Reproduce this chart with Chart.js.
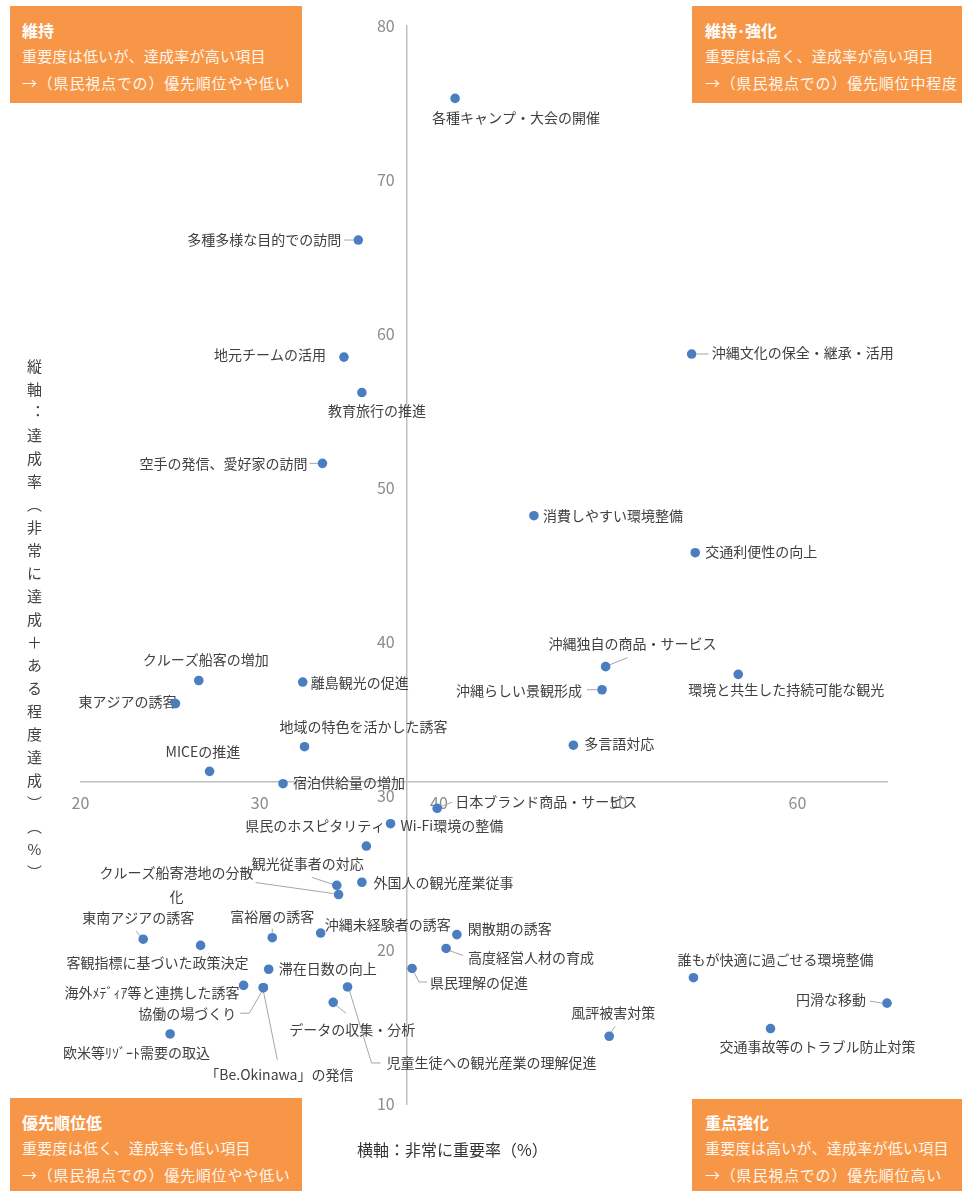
<!DOCTYPE html>
<html lang="ja">
<head>
<meta charset="utf-8">
<script src="https://cdn.jsdelivr.net/npm/chart.js@4.4.1/dist/chart.umd.min.js"></script>
<style>
html,body{margin:0;padding:0;background:#fff;}
body{width:962px;height:1191px;position:relative;overflow:hidden;font-family:"Noto Sans CJK JP",sans-serif;text-spacing-trim:space-all;}
#c{position:absolute;left:0;top:0;}
.box{position:absolute;background:#F79646;color:#fff;box-sizing:border-box;padding:11px 0 0 12px;overflow:hidden;white-space:nowrap;}
.box .t{font-weight:bold;font-size:16px;line-height:26px;}
.box .s{font-size:15px;line-height:26.5px;color:#FFF6EE;letter-spacing:0.25px;}
.box .s3{letter-spacing:0.8px;}
#ytitle{position:absolute;left:26px;top:359px;writing-mode:vertical-rl;text-orientation:upright;font-size:15px;line-height:16px;letter-spacing:8px;color:#404040;}
#ytitle .nv{font-feature-settings:"vert" 0, "vrt2" 0;}
#xtitle{position:absolute;left:357px;top:1139px;font-size:16px;line-height:20px;color:#333;}
</style>
</head>
<body>
<canvas id="c" width="962" height="1191"></canvas>
<div class="box" style="left:10px;top:6px;width:292px;height:97px;"><div class="t">維持</div><div class="s">重要度は低いが、達成率が高い項目</div><div class="s s3">→（県民視点での）優先順位やや低い</div></div>
<div class="box" style="left:692px;top:6px;width:290px;height:97px;padding-left:13px;"><div class="t">維持･強化</div><div class="s">重要度は高く、達成率が高い項目</div><div class="s s3">→（県民視点での）優先順位中程度</div></div>
<div class="box" style="left:10px;top:1098px;width:292px;height:100px;"><div class="t">優先順位低</div><div class="s">重要度は低く、達成率も低い項目</div><div class="s s3">→（県民視点での）優先順位やや低い</div></div>
<div class="box" style="left:692px;top:1099px;width:290px;height:100px;padding-top:10px;padding-left:13px;"><div class="t">重点強化</div><div class="s">重要度は高いが、達成率が低い項目</div><div class="s s3">→（県民視点での）優先順位高い</div></div>
<div id="ytitle">縦軸<span class="nv">：</span>達成率（非常に達成＋ある程度達成）（%）</div>
<div id="xtitle">横軸：非常に重要率（%）</div>
<script>
// ---- data ----
const categories = [
  "各種キャンプ・大会の開催","多種多様な目的での訪問","地元チームの活用","教育旅行の推進",
  "空手の発信、愛好家の訪問","沖縄文化の保全・継承・活用","消費しやすい環境整備","交通利便性の向上",
  "沖縄独自の商品・サービス","沖縄らしい景観形成","環境と共生した持続可能な観光","多言語対応",
  "クルーズ船客の増加","離島観光の促進","東アジアの誘客","地域の特色を活かした誘客",
  "MICEの推進","宿泊供給量の増加","日本ブランド商品・サービス","Wi-Fi環境の整備",
  "県民のホスピタリティ","観光従事者の対応","クルーズ船寄港地の分散化","外国人の観光産業従事",
  "東南アジアの誘客","客観指標に基づいた政策決定","富裕層の誘客","沖縄未経験者の誘客",
  "滞在日数の向上","海外ﾒﾃﾞｨｱ等と連携した誘客","協働の場づくり","「Be.Okinawa」の発信",
  "データの収集・分析","児童生徒への観光産業の理解促進","欧米等ﾘｿﾞｰﾄ需要の取込","閑散期の誘客",
  "高度経営人材の育成","県民理解の促進","誰もが快適に過ごせる環境整備","円滑な移動",
  "風評被害対策","交通事故等のトラブル防止対策"
];
// 横軸：非常に重要率（%）
const importance = [
  40.9, 35.5, 34.7, 35.7,
  33.5, 54.1, 45.3, 54.3,
  49.3, 49.1, 56.7, 47.5,
  26.6, 32.4, 25.3, 32.5,
  27.2, 31.3, 39.9, 37.3,
  35.95, 34.3, 34.4, 35.7,
  23.5, 26.7, 30.7, 33.4,
  30.5, 29.1, 30.2, 30.2,
  34.1, 34.9, 25.0, 41.0,
  40.4, 38.5, 54.2, 65.0,
  49.5, 58.5
];
// 縦軸：達成率（%）
const achievement = [
  75.3, 66.1, 58.5, 56.2,
  51.6, 58.7, 48.2, 45.8,
  38.4, 36.9, 37.9, 33.3,
  37.5, 37.4, 36.0, 33.2,
  31.6, 30.8, 29.2, 28.2,
  26.75, 24.2, 23.6, 24.4,
  20.7, 20.3, 20.8, 21.1,
  18.75, 17.7, 17.55, 17.55,
  16.6, 17.6, 14.55, 21.0,
  20.1, 18.8, 18.2, 16.55,
  14.4, 14.9
];
const xTickValues = [20, 30, 40, 50, 60];
const yTickValues = [10, 20, 30, 40, 50, 60, 70, 80];
const xCross = 38.2;   // 縦軸の交差位置（横軸の値）
const yCross = 30.9;   // 横軸の交差位置（縦軸の値）

// ---- label placement (style only: offsets from each point in px) ----
const labelLayout = [
  {dx:-23, dy:19, a:'left'},
  {dx:-17, dy:0, a:'right', l:[[-14,0],[-5,0]]},
  {dx:-18, dy:-2, a:'right'},
  {dx:-34, dy:18, a:'left'},
  {dx:-15, dy:0, a:'right', l:[[-13,0],[-5,0]]},
  {dx:20, dy:-1, a:'left', l:[[5,0],[17,0]]},
  {dx:9, dy:0, a:'left'},
  {dx:10, dy:-1, a:'left'},
  {dx:-57, dy:-23, a:'left', l:[[2,-1],[22,-9]]},
  {dx:-20, dy:1, a:'right', l:[[-15,0],[-5,0]]},
  {dx:-50, dy:15, a:'left'},
  {dx:11, dy:-1, a:'left'},
  {dx:-56, dy:-21, a:'left'},
  {dx:8, dy:1, a:'left'},
  {dx:1, dy:-2, a:'right'},
  {dx:-25, dy:-20, a:'left'},
  {dx:-44, dy:-20, a:'left'},
  {dx:10, dy:-1, a:'left'},
  {dx:18, dy:-6.5, a:'left', l:[[4,-2],[15,-6]]},
  {dx:10, dy:1.5, a:'left'},
  {dx:19, dy:-20, a:'right'},
  {dx:-85, dy:-22, a:'left', l:[[-25,-8],[-4,-1]]},
  {dx:-162, dy:-22, a:'center', wrap:11, l:[[-83,-12],[-5,-1]]},
  {dx:11.5, dy:0, a:'left'},
  {dx:-61, dy:-22, a:'left', l:[[-7,-8],[-2,-2]]},
  {dx:-134, dy:17, a:'left'},
  {dx:-42, dy:-21, a:'left', l:[[0,-9],[0,-5]]},
  {dx:4, dy:-8, a:'left'},
  {dx:10, dy:-1, a:'left'},
  {dx:-4, dy:7, a:'right'},
  {dx:-27, dy:25.5, a:'right', l:[[-23,25.5],[-14,25.5],[-1,3]]},
  {dx:-58, dy:87, a:'left', l:[[0,3],[14,72]]},
  {dx:-44, dy:27.5, a:'left', l:[[3,3],[13,11]]},
  {dx:39, dy:76, a:'left', l:[[2,4],[24,76],[33,76]]},
  {dx:-107, dy:19, a:'left'},
  {dx:11, dy:-6, a:'left'},
  {dx:22, dy:9, a:'left', l:[[3,2],[17,7]]},
  {dx:18, dy:14.5, a:'left', l:[[2,4],[7,13.5],[15,13.5]]},
  {dx:-16, dy:-18, a:'left'},
  {dx:-21, dy:-3, a:'right', l:[[-17,-2],[-5,0]]},
  {dx:-38, dy:-24, a:'left', l:[[1,-3],[6,-10]]},
  {dx:-51, dy:18, a:'left'}
];

const FONT = '"Noto Sans CJK JP", "Noto Sans", sans-serif';

const pointLabels = {
  id: 'pointLabels',
  beforeDatasetsDraw(chart) {
    const ctx = chart.ctx;
    const meta = chart.getDatasetMeta(0);
    ctx.save();
    meta.data.forEach((pt, i) => {
      const L = labelLayout[i];
      if (!L) return;
      if (L.l) {
        ctx.beginPath();
        ctx.strokeStyle = '#A6A6A6';
        ctx.lineWidth = 1;
        L.l.forEach(([lx, ly], k) => {
          if (k === 0) ctx.moveTo(pt.x + lx, pt.y + ly); else ctx.lineTo(pt.x + lx, pt.y + ly);
        });
        ctx.stroke();
      }
      const text = categories[i];
      const lines = L.wrap ? [text.slice(0, L.wrap), text.slice(L.wrap)] : [text];
      ctx.font = '14px ' + FONT;
      ctx.fillStyle = '#404040';
      ctx.textBaseline = 'middle';
      ctx.textAlign = L.a;
      lines.forEach((t, k) => ctx.fillText(t, pt.x + L.dx, pt.y + L.dy + k * 24.5));
    });
    ctx.restore();
  }
};

const points = categories.map((c, i) => ({x: importance[i], y: achievement[i]}));

new Chart(document.getElementById('c'), {
  type: 'scatter',
  data: {
    datasets: [{
      label: '項目',
      data: points,
      pointRadius: 4.8,
      pointHoverRadius: 4.8,
      backgroundColor: '#4A7EC0',
      borderColor: '#4A7EC0',
      borderWidth: 0,
      clip: false
    }]
  },
  options: {
    responsive: false,
    animation: false,
    events: [],
    layout: {padding: {left: 80.5, right: 75, top: 26, bottom: 87}},
    plugins: {legend: {display: false}, tooltip: {enabled: false}},
    scales: {
      x: {
        type: 'linear', min: 20, max: 65,
        position: {y: yCross},
        afterBuildTicks: s => { s.ticks = xTickValues.map(v => ({value: v})); },
        afterFit: s => { s.height = 0; },
        grid: {display: false, drawTicks: false},
        border: {display: true, color: '#BFBFBF', width: 1.5},
        ticks: {color: '#8C8C8C', font: {size: 16, family: FONT}, padding: 11, maxRotation: 0, autoSkip: false}
      },
      y: {
        type: 'linear', min: 10, max: 80,
        position: {x: xCross},
        afterBuildTicks: s => { s.ticks = yTickValues.map(v => ({value: v})); },
        afterFit: s => { s.width = 0; },
        grid: {display: false, drawTicks: false},
        border: {display: true, color: '#BFBFBF', width: 1.5},
        ticks: {color: '#8C8C8C', font: {size: 16, family: FONT}, padding: 0, autoSkip: false,
                callback: v => v + '\u2002\u2005'}
      }
    }
  },
  plugins: [pointLabels]
});
</script>
</body>
</html>
